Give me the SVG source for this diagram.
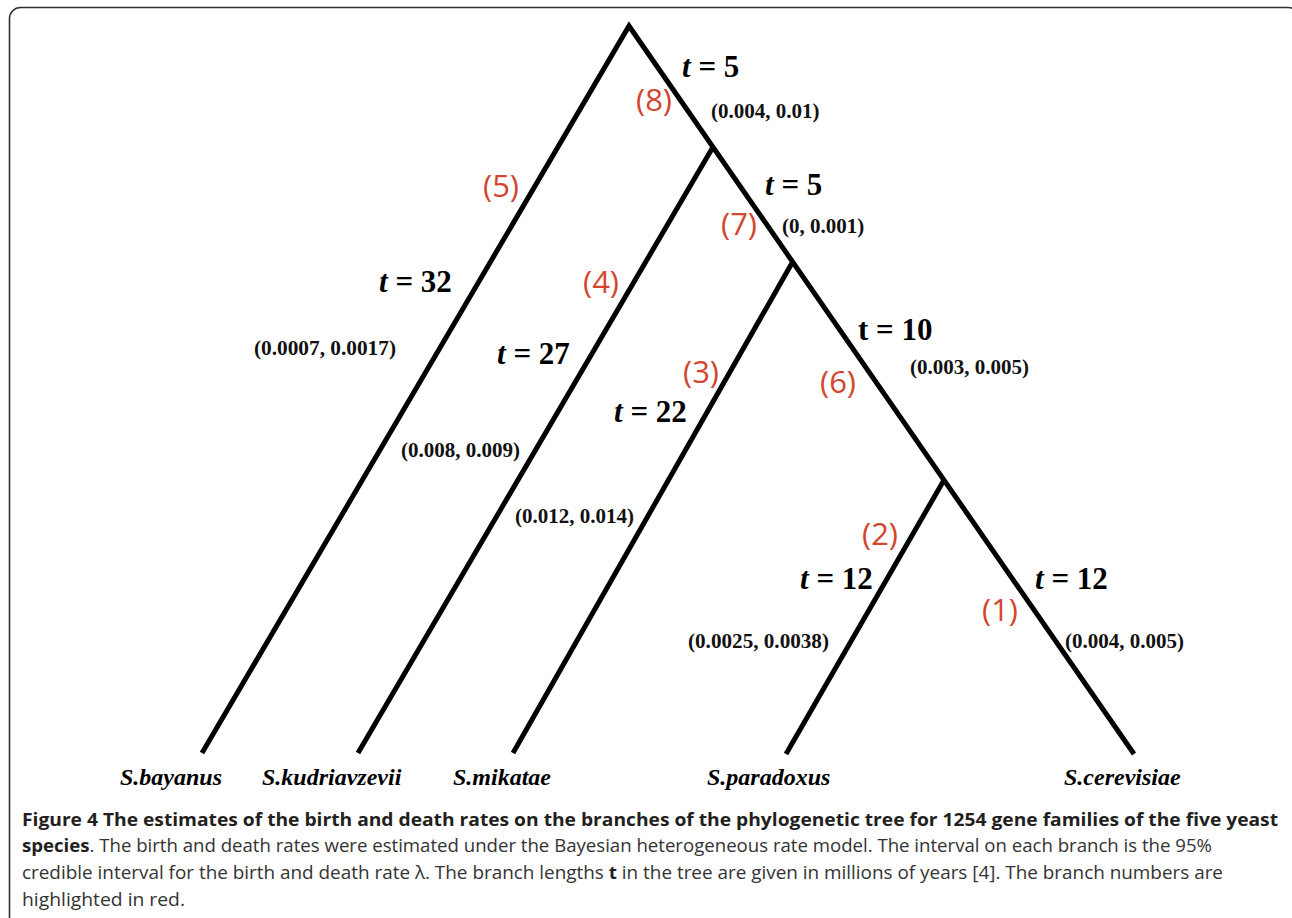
<svg xmlns="http://www.w3.org/2000/svg" width="1292" height="918" viewBox="0 0 1292 918">
<style>
.br{fill:none;stroke:#000;stroke-width:5;stroke-linejoin:miter;stroke-linecap:butt}
.t{font-family:"Liberation Serif",serif;font-weight:bold;font-size:31px;fill:#000}
.ti{font-style:italic}
.ci{font-family:"Liberation Serif",serif;font-weight:bold;font-size:21px;fill:#111}
.bn{font-family:"Open Sans","Liberation Sans",sans-serif;font-size:31px;fill:#d4452f}
.sp{font-family:"Liberation Serif",serif;font-weight:bold;font-style:italic;font-size:24px;fill:#000}
.cap{font-family:"Open Sans","Liberation Sans",sans-serif;font-size:18px;fill:#333}
.cb{font-weight:bold;fill:#231f20}
</style>
<rect x="9.5" y="7.5" width="1290" height="920" rx="11" fill="#fff" stroke="#333" stroke-width="1.6"/>
<g id="connectors">
<path class="br" d="M202,753 L629,26 L1134,754"/>
<path class="br" d="M358,753 L713,147"/>
<path class="br" d="M513,753 L792,263"/>
<path class="br" d="M786,754 L944,480"/>
</g>
<g id="branch8">
<text class="t" x="682" y="77"><tspan class="ti">t</tspan> = 5</text>
<text class="bn" x="636" y="111">(8)</text>
<text class="ci" x="711" y="118">(0.004, 0.01)</text>
</g>
<g id="branch7">
<text class="t" x="765" y="195"><tspan class="ti">t</tspan> = 5</text>
<text class="bn" x="721" y="235">(7)</text>
<text class="ci" x="782" y="233">(0, 0.001)</text>
</g>
<g id="branch5">
<text class="bn" x="483" y="197">(5)</text>
<text class="t" x="379" y="292"><tspan class="ti">t</tspan> = 32</text>
<text class="ci" x="254" y="355" textLength="142" lengthAdjust="spacingAndGlyphs">(0.0007, 0.0017)</text>
</g>
<g id="branch4">
<text class="bn" x="583" y="293">(4)</text>
<text class="t" x="497" y="364"><tspan class="ti">t</tspan> = 27</text>
<text class="ci" x="401" y="457">(0.008, 0.009)</text>
</g>
<g id="branch3">
<text class="bn" x="683" y="383">(3)</text>
<text class="t" x="614" y="422"><tspan class="ti">t</tspan> = 22</text>
<text class="ci" x="515" y="523">(0.012, 0.014)</text>
</g>
<g id="branch6">
<text class="t" x="858" y="340">t = 10</text>
<text class="bn" x="820" y="393">(6)</text>
<text class="ci" x="910" y="374">(0.003, 0.005)</text>
</g>
<g id="branch2">
<text class="bn" x="862" y="545">(2)</text>
<text class="t" x="800" y="589"><tspan class="ti">t</tspan> = 12</text>
<text class="ci" x="688" y="648" textLength="141" lengthAdjust="spacingAndGlyphs">(0.0025, 0.0038)</text>
</g>
<g id="branch1">
<text class="bn" x="982" y="621">(1)</text>
<text class="t" x="1035" y="589"><tspan class="ti">t</tspan> = 12</text>
<text class="ci" x="1065" y="648">(0.004, 0.005)</text>
</g>
<g id="leaf-bayanus"><text class="sp" x="120" y="785">S.bayanus</text></g>
<g id="leaf-kudriavzevii"><text class="sp" x="262" y="785">S.kudriavzevii</text></g>
<g id="leaf-mikatae"><text class="sp" x="453" y="785">S.mikatae</text></g>
<g id="leaf-paradoxus"><text class="sp" x="707" y="785">S.paradoxus</text></g>
<g id="leaf-cerevisiae"><text class="sp" x="1064" y="785">S.cerevisiae</text></g>
<g id="caption">
<text class="cap cb" x="22" y="826" textLength="1256" lengthAdjust="spacingAndGlyphs">Figure 4 The estimates of the birth and death rates on the branches of the phylogenetic tree for 1254 gene families of the five yeast</text>
<text class="cap" x="22" y="852" textLength="1190" lengthAdjust="spacingAndGlyphs"><tspan class="cb">species</tspan>. The birth and death rates were estimated under the Bayesian heterogeneous rate model. The interval on each branch is the 95%</text>
<text class="cap" x="22" y="879" textLength="1201" lengthAdjust="spacingAndGlyphs">credible interval for the birth and death rate λ. The branch lengths <tspan class="cb">t</tspan> in the tree are given in millions of years [4]. The branch numbers are</text>
<text class="cap" x="22" y="906" textLength="163" lengthAdjust="spacingAndGlyphs">highlighted in red.</text>
</g>
</svg>
